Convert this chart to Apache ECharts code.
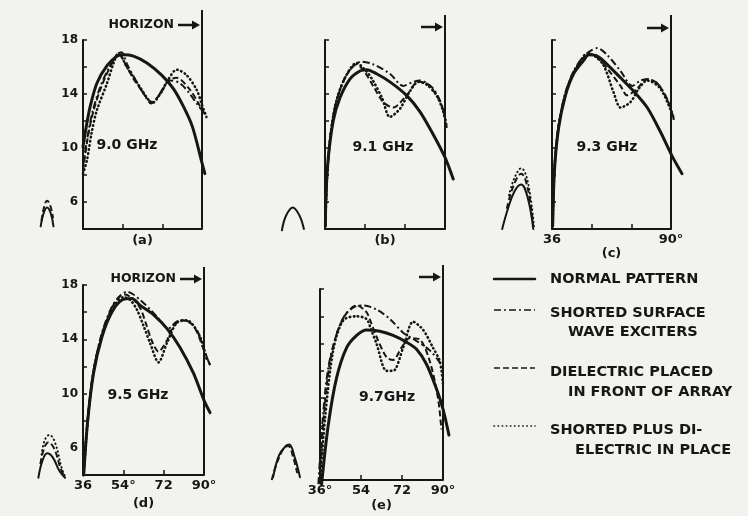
<!DOCTYPE html>
<html>
<head>
<meta charset="utf-8">
<script src="https://cdn.jsdelivr.net/npm/echarts@6/dist/echarts.min.js"></script>
<style>
  html, body { margin: 0; padding: 0; background: #f2f2ef; }
  #main { width: 748px; height: 516px; }
</style>
</head>
<body>
<div id="main"></div>
<script>
// ---- data (angle in degrees, gain in dB) ----
var panelTags = ['(a)', '(b)', '(c)', '(d)', '(e)'];
var freqNames = ['9.0 GHz', '9.1 GHz', '9.3 GHz', '9.5 GHz', '9.7GHz'];
var curveNames = ['NORMAL PATTERN', 'SHORTED SURFACE WAVE EXCITERS', 'DIELECTRIC PLACED IN FRONT OF ARRAY', 'SHORTED PLUS DIELECTRIC IN PLACE'];
var legendLines = [
  ['NORMAL PATTERN'],
  ['SHORTED SURFACE', 'WAVE EXCITERS'],
  ['DIELECTRIC PLACED', 'IN FRONT OF ARRAY'],
  ['SHORTED PLUS DI-', 'ELECTRIC IN PLACE']
];
var yLabelTicks = [6, 10, 14, 18];
var xLabelSets = [
  {}, {},
  {36: '36', 90: '90°'},
  {36: '36', 54: '54°', 72: '72', 90: '90°'},
  {36: '36°', 54: '54', 72: '72', 90: '90°'}
];

// 9.0 GHz
var normal90 = [[36,10.1],[37.5,11.6],[39.3,13.1],[42.3,14.8],[46.9,16.1],[51.4,16.8],[54.4,16.9],[58.9,16.8],[65,16.3],[71.7,15.4],[77,14.4],[81.5,13.1],[85.6,11.6],[90,8.9],[91.3,8.1]];
var shorted90 = [[36,8.6],[38,10.8],[40.5,12.8],[44,14.6],[48,16.0],[52,17.0],[53.5,17.1],[56,16.2],[60,15.0],[64,13.9],[67,13.3],[70,13.8],[73,14.6],[75.5,15.0],[80,14.8],[84.5,14.0],[88,13.2],[90,12.8]];
var diel90 = [[36,8.3],[38,10.6],[40.5,12.6],[44,14.4],[48,15.9],[52.1,17.0],[55.9,16.0],[59,15.1],[62,14.4],[65,13.7],[67.2,13.4],[71,14.0],[74.8,15.0],[78.5,15.2],[84.6,14.3],[89.1,13.1],[92,12.3]];
var plus90 = [[36,8.1],[37.8,9.1],[40,11.2],[42.3,12.8],[46.9,14.8],[49.9,16.3],[52.1,17.0],[55.9,16.0],[61.9,14.5],[65.5,13.6],[67.2,13.3],[71,14.0],[74.8,15.1],[78.5,15.8],[83,15.4],[87.6,14.3],[90,13.2],[92,12.3]];
var lobeNormal90 = [[16.8,4.2],[18,5.1],[19.7,5.6],[21.3,5.2],[22.6,4.2]];
var lobeDiel90 = [[17.2,4.6],[18.3,5.6],[19.7,6.1],[21.2,5.7],[22.4,4.8]];

// 9.1 GHz
var normal91 = [[36.2,4.2],[36.4,6.4],[37.5,9.3],[39.7,12.0],[42.7,13.7],[47.2,15.1],[51.7,15.7],[54.7,15.8],[59.2,15.5],[65.2,14.9],[72.7,13.9],[78.7,12.7],[84.7,11.0],[90,9.3],[93.7,7.7]];
var shorted91 = [[36.3,5],[37,8],[38.5,11],[41,13.4],[45,15.2],[49,16.1],[52.5,16.4],[57.7,16.2],[65.2,15.5],[71.2,14.6],[75.7,14.9],[78.7,15.0],[84.7,14.4],[89.2,12.9],[90.7,11.5]];
var diel91 = [[36.3,5],[37,8],[38.5,11],[41,13.4],[45,15.2],[50.2,16.2],[54,15.6],[58,14.5],[62.2,13.4],[66.7,13.0],[72.7,13.9],[78,14.9],[81.7,14.8],[86.2,13.9],[89.2,12.8],[90.7,11.5]];
var plus91 = [[36.3,5],[37,8],[38.5,11],[41,13.4],[45,15.2],[50.2,16.3],[54,15.8],[57.2,15.1],[61.7,13.7],[65.2,12.3],[69.7,12.9],[73.5,14.0],[78,14.9],[81.7,14.7],[86.2,13.9],[89.2,12.7],[90.7,11.6]];
var lobeNormal91 = [[16.6,3.9],[18.5,5.0],[21.5,5.6],[24.5,5.0],[26.5,4.0]];

// 9.3 GHz
var normal93 = [[36.3,4.2],[37.1,8.3],[39,11.5],[42.1,13.9],[45.8,15.5],[50.4,16.5],[52.7,16.9],[56.5,16.8],[61,16.2],[67.1,15.2],[73.1,14.2],[79.2,13.0],[85.2,11.2],[90.5,9.4],[95,8.1]];
var shorted93 = [[36.3,4.2],[37.1,8.4],[39,11.7],[42.1,14.1],[45.8,15.7],[50.4,16.8],[53.5,17.2],[56.5,17.4],[61,16.9],[67.1,15.7],[72.4,14.6],[76.2,15.0],[79.2,15.1],[83.7,14.8],[88.3,13.6],[91.3,12.1]];
var diel93 = [[36.3,4.2],[37.1,8.4],[39,11.6],[42.1,14.0],[45.8,15.6],[50.4,16.7],[52.7,17.0],[56.5,16.7],[61,15.9],[67.1,14.6],[70.1,13.9],[74.6,14.4],[79.2,15.1],[83.7,14.8],[88.3,13.6],[91.3,12.1]];
var plus93 = [[36.3,4.2],[37.1,8.4],[39,11.6],[42.1,14.0],[45.8,15.6],[50.4,16.8],[52,17.0],[55.5,16.8],[59.5,16.1],[64,14.1],[67.1,13.0],[71.6,13.4],[75.4,14.4],[79.2,15.0],[85.2,14.4],[91.3,12.2]];
var lobeNormal93 = [[13.4,4.0],[16,5.5],[19,6.8],[22,7.3],[25,6.3],[27.5,4.0]];
var lobeDiel93 = [[15.5,5.5],[18.5,7.2],[22,8.1],[25,7.0],[27.5,4.2]];
var lobePlus93 = [[16.5,6.5],[19,7.8],[22,8.5],[25,7.5],[27.8,4.2]];

// 9.5 GHz
var normal95 = [[36.3,4.0],[38.1,8.0],[40.7,11.5],[44.5,14.2],[48.9,16.0],[53.4,16.9],[57.8,17.0],[61.5,16.5],[67.5,15.8],[73.4,14.8],[79.3,13.4],[85.3,11.5],[90,9.5],[92.7,8.6]];
var shorted95 = [[36.3,4.0],[38.1,8.1],[40.7,11.7],[44.5,14.5],[48.9,16.4],[52.5,17.2],[55.6,17.5],[58.5,17.3],[61.5,16.9],[66,16.2],[70.4,15.4],[74.1,14.8],[77.8,15.3],[81.5,15.4],[86.7,14.7],[90,13.2],[92.7,12.1]];
var diel95 = [[36.3,4.0],[38.1,8.1],[40.7,11.7],[44.5,14.4],[48.9,16.3],[52,17.1],[54.8,17.3],[58,17.0],[61.5,16.3],[64,15.2],[66.7,13.9],[69.7,13.1],[73.4,13.9],[76.4,15.0],[80.1,15.4],[85.3,15.0],[90,13.2],[92.7,12.1]];
var plus95 = [[36.3,4.0],[38.1,8.0],[40.7,11.6],[44.5,14.3],[48.9,16.2],[54.1,17.1],[57,16.9],[60,16.2],[63,15.0],[66,13.7],[69.7,12.3],[73.4,13.7],[77.8,15.2],[82.3,15.4],[88.2,14.2],[91.2,12.5]];
var lobeNormal95 = [[16.1,3.8],[17.8,5.0],[20,5.6],[22.5,5.3],[25.5,4.3],[28,3.8]];
var lobeDiel95 = [[17,4.8],[18.5,5.9],[20.5,6.4],[23,6.0],[26,4.5],[28,3.8]];
var lobePlus95 = [[17.5,5.5],[19,6.6],[21,6.95],[23.5,6.4],[26.5,4.5],[28,3.9]];

// 9.7 GHz
var normal97 = [[36.7,3.7],[39.6,8.0],[43.3,11.5],[47.7,13.7],[52.1,14.6],[56.4,15.0],[62.3,14.9],[68.1,14.6],[74,14.1],[78.3,13.6],[82.7,12.5],[87.1,10.7],[90,9.2],[92.6,7.3]];
var shorted97 = [[35.3,3.7],[37.2,8.5],[39.6,12.2],[43.3,14.7],[47,16.1],[51.3,16.7],[55,16.8],[60.8,16.5],[66.7,15.8],[72.5,14.8],[78.3,14.2],[84.2,13.5],[88.6,12.6],[90,12.0]];
var diel97 = [[35.8,3.7],[37.5,8.3],[40,12.3],[43.5,14.8],[47.5,16.2],[52.1,16.8],[56.4,16.3],[58.5,15.5],[60.8,14.5],[65.2,13.0],[68.1,12.8],[71.8,13.7],[75.4,14.4],[79.8,14.3],[84.2,12.7],[87.8,10.0],[89.3,7.7]];
var plus97 = [[36,3.8],[38.2,8.5],[41.8,13.5],[46.2,15.7],[52.1,16.0],[56.4,15.8],[58.5,15.0],[60.8,14.0],[65.2,12.0],[68.1,12.0],[72.5,13.7],[76.9,15.6],[81.3,15.0],[85.6,13.7],[88.6,12.7],[90,11.0]];
var lobeNormal97 = [[15.4,4.2],[18,5.8],[21,6.5],[22.5,6.6],[25,5.6],[27.2,4.2]];
var lobeDiel97 = [[14.8,4.0],[17,5.2],[20,6.3],[22,6.5],[24.5,5.5],[26,4.5]];

var panelCurves = [
  [normal90, shorted90, diel90, plus90],
  [normal91, shorted91, diel91, plus91],
  [normal93, shorted93, diel93, plus93],
  [normal95, shorted95, diel95, plus95],
  [normal97, shorted97, diel97, plus97]
];
var panelLobes = [
  [lobeNormal90, null, lobeDiel90, null],
  [lobeNormal91, null, null, null],
  [lobeNormal93, null, lobeDiel93, lobePlus93],
  [lobeNormal95, null, lobeDiel95, lobePlus95],
  [lobeNormal97, null, lobeDiel97, null]
];

// ---- layout ----
var ink = '#161616';
var font = 'DejaVu Sans';
// visible frames, angle 36..90 and gain 4..18
var grids = [
  {left: 83, top: 40, width: 119, height: 189},
  {left: 325, top: 40, width: 120, height: 189},
  {left: 552, top: 40, width: 119, height: 189},
  {left: 83, top: 285, width: 121, height: 190},
  {left: 320, top: 289, width: 123, height: 191}
];
// wider hidden frames with the same scale, so side lobes and tails past 90 show
var dataX = [10, 98], dataY = [3, 18];
var dataGrids = grids.map(function (g) {
  var k = g.width / 54, m = g.height / 14;
  return {
    left: g.left - (36 - dataX[0]) * k, width: (dataX[1] - dataX[0]) * k,
    top: g.top - (18 - dataY[1]) * m, height: (dataY[1] - dataY[0]) * m
  };
});
var nameGaps = [5, 5, 5, 22, 19];
var lineStyles = [
  {type: 'solid', width: 3, cap: 'round'},
  {type: [7, 3, 2, 3], width: 2, cap: 'butt'},
  {type: [6, 3], width: 2, cap: 'butt'},
  {type: [0.5, 3.6], width: 2.6, cap: 'round'}
];

var chart = echarts.init(document.getElementById('main'));

var xAxes = [], yAxes = [], series = [];
grids.forEach(function (g, i) {
  xAxes.push({
    type: 'value', gridIndex: i, min: 36, max: 90, interval: 18,
    name: panelTags[i], nameLocation: 'middle', nameGap: nameGaps[i],
    nameTextStyle: {color: ink, fontFamily: font, fontWeight: 'bold', fontSize: 13, verticalAlign: 'top'},
    axisLine: {onZero: false, lineStyle: {color: ink, width: 2}},
    axisTick: {inside: true, length: 5, lineStyle: {color: ink, width: 1.5}},
    splitLine: {show: false},
    axisLabel: {
      margin: 4, color: ink, fontFamily: font, fontWeight: 'bold', fontSize: 13,
      showMinLabel: true, showMaxLabel: true,
      formatter: function (v) { return xLabelSets[i][v] || ''; }
    }
  });
  var showY = (i === 0 || i === 3);
  yAxes.push({
    type: 'value', gridIndex: i, min: 4, max: 18, interval: 2,
    axisLine: {onZero: false, lineStyle: {color: ink, width: 2}},
    axisTick: {inside: true, length: 4, lineStyle: {color: ink, width: 1.5}},
    splitLine: {show: false},
    axisLabel: {
      show: showY, margin: 5, color: ink, fontFamily: font, fontWeight: 'bold', fontSize: 12,
      formatter: function (v) { return yLabelTicks.indexOf(v) >= 0 ? String(v) : ''; }
    }
  });
});
dataGrids.forEach(function (g, i) {
  var gi = grids.length + i;
  xAxes.push({type: 'value', gridIndex: gi, min: dataX[0], max: dataX[1], show: false, splitLine: {show: false}});
  yAxes.push({type: 'value', gridIndex: gi, min: dataY[0], max: dataY[1], show: false, splitLine: {show: false}});
  panelCurves[i].forEach(function (d, k) {
    var ls = lineStyles[k];
    series.push({
      type: 'line', name: curveNames[k], xAxisIndex: gi, yAxisIndex: gi,
      data: d, smooth: 0.3, symbol: 'none', silent: true,
      z: 10 - k,
      lineStyle: {color: ink, width: ls.width, type: ls.type, cap: ls.cap}
    });
    var lobe = panelLobes[i][k];
    if (lobe) {
      series.push({
        type: 'line', name: curveNames[k], xAxisIndex: gi, yAxisIndex: gi,
        data: lobe, smooth: 0.4, symbol: 'none', silent: true,
        lineStyle: {color: ink, width: Math.min(ls.width, 2), type: ls.type, cap: ls.cap}
      });
    }
  });
});

chart.setOption({
  backgroundColor: '#f2f2ef',
  animation: false,
  grid: grids.concat(dataGrids),
  xAxis: xAxes,
  yAxis: yAxes,
  series: series
});

// ---- decorations: horizon lines, arrows, labels, legend ----
var lineTopExtra = [30, 25, 25, 18, 24];
var arrowAbove = [15, 13, 12, 6, 12];
var horizonText = [true, false, false, true, false];
var freqPos = [[127, 145], [383, 147], [607, 147], [138, 395], [387, 397]];
var graphics = [];
var txt = function (x, y, s, size, align, extra) {
  var o = {type: 'text', x: x, y: y, silent: true,
    style: {text: s, fill: ink, font: 'bold ' + size + 'px "' + font + '"', align: align || 'left', verticalAlign: 'middle'}};
  if (extra) { for (var key in extra) o[key] = extra[key]; }
  return o;
};
grids.forEach(function (g, i) {
  var bottom = chart.convertToPixel({gridIndex: i}, [90, 4]);
  var top = chart.convertToPixel({gridIndex: i}, [90, 18]);
  var x = bottom[0];
  graphics.push({type: 'line', silent: true,
    shape: {x1: x, y1: bottom[1], x2: x, y2: top[1] - lineTopExtra[i]},
    style: {stroke: ink, lineWidth: 2}});
  var ay = top[1] - arrowAbove[i];
  graphics.push({type: 'line', silent: true,
    shape: {x1: x - 24, y1: ay, x2: x - 8, y2: ay},
    style: {stroke: ink, lineWidth: 2.5}});
  graphics.push({type: 'polygon', silent: true,
    shape: {points: [[x - 10, ay - 4.5], [x - 2, ay], [x - 10, ay + 4.5]]},
    style: {fill: ink}});
  if (horizonText[i]) {
    graphics.push(txt(x - 28, ay, 'HORIZON', 12.5, 'right'));
  }
  graphics.push(txt(freqPos[i][0], freqPos[i][1], freqNames[i], 14, 'center'));
});

// axis title
graphics.push(txt(18, 280, 'GAIN', 13, 'center', {rotation: Math.PI / 2, originX: 18, originY: 280}));
graphics.push(txt(18, 223, '(dB)', 13, 'center', {rotation: Math.PI / 2, originX: 18, originY: 223}));

// legend
var legY = [279, 310, 368, 426];
var legTextY = [[279], [313, 332], [372, 392], [430, 450]];
var legTextX = [[550], [550, 568], [550, 568], [550, 575]];
legendLines.forEach(function (lines, k) {
  var ls = lineStyles[k];
  graphics.push({type: 'line', silent: true,
    shape: {x1: 494, y1: legY[k], x2: 535, y2: legY[k]},
    style: {stroke: ink, lineWidth: k === 0 ? 2.5 : 1.6, lineDash: k === 0 ? null : ls.type, lineCap: ls.cap}});
  lines.forEach(function (s, j) {
    graphics.push(txt(legTextX[k][j], legTextY[k][j], s, 14.5, 'left'));
  });
});

chart.setOption({graphic: graphics});
</script>
</body>
</html>
